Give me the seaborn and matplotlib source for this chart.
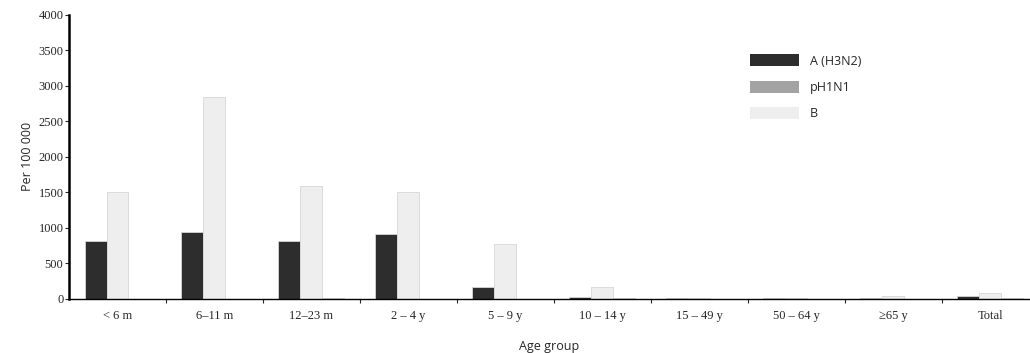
import pandas as pd
import numpy as np
import seaborn as sns
import matplotlib.pyplot as plt
from matplotlib.patches import Patch

# Data (rate per 100 000)
age_groups = ["< 6 m", "6–11 m", "12–23 m", "2 – 4 y", "5 – 9 y",
              "10 – 14 y", "15 – 49 y", "50 – 64 y", "≥65 y", "Total"]
h3n2 = [820, 940, 820, 910, 165, 30, 10, 10, 20, 40]
flu_b = [1510, 2850, 1590, 1510, 775, 170, 15, 10, 40, 90]
ph1n1 = [5, 5, 20, 5, 5, 10, 5, 5, 5, 10]

df = pd.DataFrame({
    "Age group": age_groups * 3,
    "rate": h3n2 + flu_b + ph1n1,
    "virus": ["A (H3N2)"] * 10 + ["B"] * 10 + ["pH1N1"] * 10,
})

colors = {"A (H3N2)": "#2d2d2d", "pH1N1": "#a3a3a3", "B": "#eeeeee"}

sns.set_style("white")
fig = plt.figure(figsize=(10.3, 3.53), dpi=100)
ax = fig.add_axes([0.067, 0.153, 0.933, 0.805])

sns.barplot(data=df, x="Age group", y="rate", hue="virus",
            hue_order=["A (H3N2)", "B", "pH1N1"], palette=colors,
            width=0.68, edgecolor="#d6d6d6", linewidth=0.6,
            legend=False, ax=ax)

ax.set_xlim(-0.5, 9.41)
ax.set_ylim(0, 4000)
ax.set_yticks(np.arange(0, 4001, 500))
ax.set_yticklabels([str(v) for v in range(0, 4001, 500)],
                   family="Liberation Serif", fontsize=9)
ax.set_xticks(range(len(age_groups)))
ax.set_xticklabels(age_groups, family="Liberation Serif", fontsize=9)
ax.tick_params(axis="x", length=0, pad=8)
ax.tick_params(axis="y", length=3, width=0.8, pad=1, left=True)
# boundary ticks between groups
ax.set_xticks(np.arange(0.5, 9.5, 1), minor=True)
ax.tick_params(axis="x", which="minor", length=3, width=0.8, bottom=True)

for s in ["top", "right"]:
    ax.spines[s].set_visible(False)
ax.spines["left"].set_linewidth(1.8)
ax.spines["left"].set_color("black")
ax.spines["bottom"].set_linewidth(1.0)
ax.spines["bottom"].set_color("black")

ax.set_ylabel("Per 100 000", family="Open Sans", fontsize=9, labelpad=3)
ax.set_xlabel("Age group", family="Open Sans", fontsize=9, labelpad=13)

handles = [Patch(facecolor=colors[k], edgecolor="none") for k in ["A (H3N2)", "pH1N1", "B"]]
ax.legend(handles, ["A (H3N2)", "pH1N1", "B"], loc="upper left",
          bbox_to_anchor=(0.697, 0.9), frameon=False, handlelength=3.9,
          handleheight=1.1, labelspacing=1.05, handletextpad=0.9,
          prop={"family": "Open Sans", "size": 9})

fig.savefig("out.png", dpi=100)
